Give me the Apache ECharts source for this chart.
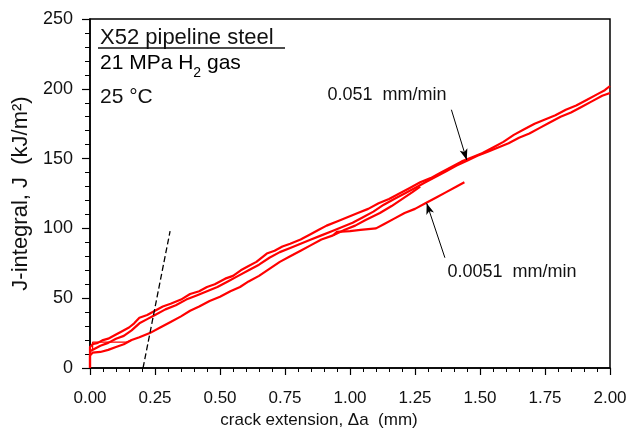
<!DOCTYPE html>
<html>
<head>
<meta charset="utf-8">
<script src="https://cdn.jsdelivr.net/npm/echarts@6/dist/echarts.min.js"></script>
<style>
  html, body { margin: 0; padding: 0; background: #fff; }
  #chart { width: 630px; height: 430px; }
</style>
</head>
<body>
<div id="chart"></div>
<script>
// axis ticks
const xTicks = [0, 0.25, 0.5, 0.75, 1, 1.25, 1.5, 1.75, 2]
const yTicks = [0, 50, 100, 150, 200, 250]

// 0.051 mm/min run, upper edge of the band
const fastUpper = [
  [0.00, 0], [0.00, 15], [0.01, 17], [0.03, 18], [0.05, 20], [0.07, 21], [0.10, 24], [0.12, 26],
  [0.15, 29], [0.17, 32], [0.19, 36], [0.22, 38], [0.25, 41], [0.28, 44], [0.31, 46], [0.35, 49],
  [0.385, 53], [0.42, 55], [0.45, 58], [0.48, 60], [0.52, 64], [0.55, 66], [0.58, 70], [0.61, 73],
  [0.64, 76], [0.68, 82], [0.71, 84], [0.74, 87], [0.77, 89], [0.81, 92], [0.85, 96], [0.88, 99],
  [0.91, 102], [0.95, 105], [0.99, 108], [1.03, 111], [1.07, 114], [1.11, 118], [1.15, 121],
  [1.19, 125], [1.23, 129], [1.27, 133], [1.31, 136], [1.35, 140], [1.39, 144], [1.43, 148],
  [1.47, 151], [1.51, 154], [1.55, 158], [1.59, 162], [1.63, 167], [1.67, 171], [1.71, 175],
  [1.75, 178], [1.79, 181], [1.83, 185], [1.87, 188], [1.91, 192], [1.95, 196], [1.98, 199], [2.00, 202]
]

// 0.051 mm/min run, lower edge of the band
const fastLower = [
  [0.00, 12], [0.02, 14], [0.04, 16], [0.07, 18], [0.10, 21], [0.13, 23], [0.16, 27], [0.19, 32],
  [0.22, 35], [0.25, 38], [0.29, 42], [0.33, 45], [0.37, 49], [0.41, 52], [0.45, 55], [0.49, 58],
  [0.53, 62], [0.57, 66], [0.61, 70], [0.65, 74], [0.69, 79], [0.73, 83], [0.77, 86], [0.81, 89],
  [0.85, 92], [0.89, 95], [0.93, 98], [0.97, 101], [1.01, 104], [1.05, 108], [1.09, 112], [1.13, 117],
  [1.17, 121], [1.21, 125], [1.25, 129], [1.29, 133], [1.33, 137], [1.37, 141], [1.41, 145],
  [1.45, 148.5], [1.49, 152], [1.53, 155], [1.57, 158], [1.61, 161], [1.65, 165], [1.69, 168],
  [1.73, 172], [1.77, 176], [1.81, 180], [1.85, 183], [1.89, 187], [1.93, 191], [1.97, 195], [2.00, 197]
]

// lower track from the origin
const lowerTrack = [
  [0.00, 0], [0.00, 9], [0.01, 11], [0.04, 11.5], [0.07, 13], [0.10, 15], [0.13, 17], [0.16, 20],
  [0.19, 22], [0.23, 25], [0.27, 29], [0.31, 33], [0.35, 37], [0.385, 41], [0.42, 44], [0.46, 48],
  [0.50, 51], [0.54, 55], [0.577, 58], [0.61, 62], [0.65, 66], [0.69, 71], [0.73, 76], [0.77, 80],
  [0.81, 84], [0.85, 88], [0.89, 92], [0.935, 95]
]

// small step near the start
const startStep = [[0.01, 13], [0.01, 18.5], [0.14, 18.5], [0.16, 20]]

// 0.0051 mm/min branch
const slowBranch = [
  [0.935, 95], [0.95, 97.5], [1.00, 98], [1.04, 99], [1.10, 100], [1.13, 103], [1.17, 107],
  [1.21, 111], [1.25, 114], [1.29, 118], [1.33, 122], [1.37, 126], [1.41, 130], [1.44, 133]
]

// lower track rejoining the band
const mergeTrack = [
  [0.935, 95], [0.98, 99], [1.02, 102], [1.06, 106], [1.115, 111], [1.16, 116], [1.20, 121],
  [1.24, 126], [1.27, 130]
]

// blunting line
const bluntLine = [[0.204, 0], [0.308, 98]]

// annotation arrows (from, to)
const fastArrow = [[1.39, 185], [1.449, 149]]
const slowArrow = [[1.365, 79], [1.295, 118]]

const FONT = '"Liberation Sans", Arial, sans-serif'
const RED = '#ff0000'
const INK = '#111'

function redLine(data, w) {
  return {
    type: 'line',
    data: data,
    showSymbol: false,
    symbol: 'none',
    lineStyle: { color: RED, width: w || 2.2 },
    silent: true,
    animation: false
  }
}

function arrow(pair) {
  return [{ coord: pair[0] }, { coord: pair[1] }]
}

const chart = echarts.init(document.getElementById('chart'))

chart.setOption({
  backgroundColor: '#fff',
  animation: false,
  textStyle: { fontFamily: FONT },
  grid: {
    left: 90,
    right: 20,
    top: 19,
    bottom: 62,
    outerBoundsMode: 'none',
    show: true,
    borderColor: '#000',
    borderWidth: 1.5
  },
  xAxis: {
    type: 'value',
    min: xTicks[0],
    max: xTicks[xTicks.length - 1],
    interval: 0.25,
    name: 'crack extension, Δa  (mm)',
    nameLocation: 'middle',
    nameGap: 37,
    // the title sits a little left of the axis centre
    nameTextStyle: { fontSize: 17, color: INK, fontFamily: FONT, padding: [0, 62, 0, 0] },
    axisLine: { lineStyle: { color: '#000', width: 1.5 } },
    axisTick: { inside: false, length: 7, lineStyle: { color: '#000', width: 1.2 } },
    minorTick: { show: true, splitNumber: 5, length: 4, lineStyle: { color: '#000', width: 1 } },
    axisLabel: {
      fontSize: 17,
      color: INK,
      margin: 22,
      fontFamily: FONT,
      formatter: v => v.toFixed(2)
    },
    splitLine: { show: false }
  },
  yAxis: {
    type: 'value',
    min: yTicks[0],
    max: yTicks[yTicks.length - 1],
    interval: 50,
    name: 'J-integral, J  (kJ/m²)',
    nameLocation: 'middle',
    nameGap: 52,
    nameTextStyle: { fontSize: 22, color: INK, fontFamily: FONT },
    axisLine: { lineStyle: { color: '#000', width: 1.5 } },
    axisTick: { inside: false, length: 8, lineStyle: { color: '#000', width: 1.2 } },
    minorTick: { show: true, splitNumber: 5, length: 5, lineStyle: { color: '#000', width: 1 } },
    axisLabel: { fontSize: 18, color: INK, margin: 17, fontFamily: FONT },
    splitLine: { show: false }
  },
  series: [
    redLine(fastUpper),
    redLine(fastLower),
    redLine(lowerTrack),
    redLine(startStep, 1.3),
    redLine(slowBranch),
    redLine(mergeTrack),
    {
      type: 'line',
      data: bluntLine,
      showSymbol: false,
      symbol: 'none',
      lineStyle: { color: '#000', width: 1.3, type: [6, 3] },
      silent: true,
      markLine: {
        silent: true,
        symbol: ['none', 'arrow'],
        symbolSize: [6, 11],
        label: { show: false },
        lineStyle: { color: '#000', width: 1, type: 'solid' },
        data: [arrow(fastArrow), arrow(slowArrow)]
      }
    }
  ],
  graphic: [
    {
      type: 'text', left: 100, top: 27,
      style: { text: 'X52 pipeline steel', font: '22px ' + FONT, fill: INK }
    },
    {
      type: 'line', shape: { x1: 98, y1: 48, x2: 285, y2: 48 },
      style: { stroke: INK, lineWidth: 1.5 }
    },
    {
      type: 'text', left: 100, top: 53,
      style: {
        text: '{a|21 MPa H}{s|2}{a| gas}',
        rich: {
          a: { fontSize: 21, fontFamily: FONT, color: INK, lineHeight: 26 },
          s: { fontSize: 14, fontFamily: FONT, color: INK, lineHeight: 34, verticalAlign: 'bottom' }
        }
      }
    },
    {
      type: 'text', left: 100, top: 87,
      style: { text: '25 °C', font: '21px ' + FONT, fill: INK }
    },
    {
      type: 'text', x: 387, y: 95,
      style: { text: '0.051  mm/min', font: '18px ' + FONT, fill: INK, align: 'center', verticalAlign: 'middle' }
    },
    {
      type: 'text', x: 512, y: 272,
      style: { text: '0.0051  mm/min', font: '18px ' + FONT, fill: INK, align: 'center', verticalAlign: 'middle' }
    }
  ]
})
</script>
</body>
</html>
